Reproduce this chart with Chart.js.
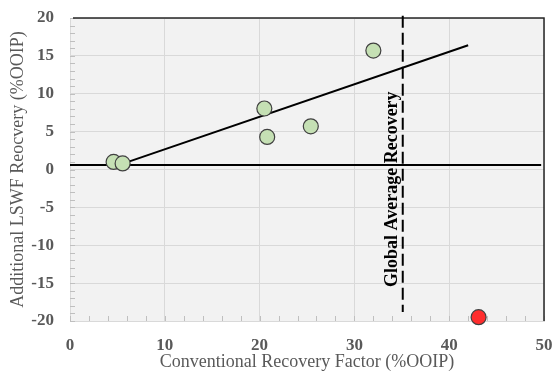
<!DOCTYPE html>
<html>
<head>
<meta charset="utf-8">
<script src="https://cdn.jsdelivr.net/npm/chart.js@4/dist/chart.umd.min.js"></script>
<style>
  html, body { margin: 0; padding: 0; background: #fff; }
  #wrap { width: 555px; height: 373px; }
</style>
</head>
<body>
<div id="wrap"><canvas id="myChart" width="555" height="373"></canvas></div>
<script>
// field data
const conventionalRF = [4.6, 5.55, 20.5, 20.8, 25.4, 32.0];
const additionalLSWF = [1.0, 0.8, 8.05, 4.3, 5.7, 15.7];
const outlierRF = [43.1];
const outlierLSWF = [-19.5];

// fitted trend line end points
const trendX = [5.05, 42.0];
const trendY = [0.55, 16.4];

// reference lines
const baselineX = [0, 49.7];
const baselineY = [0.6, 0.6];
const globalAvgX = [35.1, 35.1];
const globalAvgY = [20.3, -18.8];
const globalAvgLabel = 'Global Average Recovery';
const labelPos = { x: 33.95, y: -2.6 };

const xTicks = [0, 10, 20, 30, 40, 50];
const yTicks = [-20, -15, -10, -5, 0, 5, 10, 15, 20];

const toPoints = (xs, ys) => xs.map((x, i) => ({ x: x, y: ys[i] }));

const serif = 'Liberation Serif, Times New Roman, serif';

const decorPlugin = {
    id: 'decor',
    beforeDraw(chart) {
        const { ctx, chartArea: a } = chart;
        ctx.save();
        ctx.fillStyle = '#f2f2f2';
        ctx.fillRect(a.left, a.top, a.right - a.left, a.bottom - a.top);
        ctx.restore();
    },
    beforeDatasetsDraw(chart) {
        const { ctx, chartArea: a, scales } = chart;
        ctx.save();
        // minor ticks
        ctx.strokeStyle = '#bfbfbf';
        ctx.lineWidth = 1;
        ctx.beginPath();
        for (let v = -20; v <= 20; v += 1) {
            const py = Math.round(scales.y.getPixelForValue(v)) + 0.5;
            ctx.moveTo(a.left, py);
            ctx.lineTo(a.left + 5, py);
        }
        for (let v = 0; v <= 50; v += 2) {
            const px = Math.round(scales.x.getPixelForValue(v)) + 0.5;
            ctx.moveTo(px, a.bottom);
            ctx.lineTo(px, a.bottom - 5);
        }
        ctx.stroke();
        // dark top and right frame
        ctx.strokeStyle = '#262626';
        ctx.lineWidth = 1.5;
        ctx.beginPath();
        ctx.moveTo(a.left + 3, a.top);
        ctx.lineTo(a.right, a.top);
        ctx.lineTo(a.right, a.bottom);
        ctx.stroke();
        ctx.restore();
    },
    afterDatasetsDraw(chart) {
        const { ctx, scales } = chart;
        ctx.save();
        ctx.translate(scales.x.getPixelForValue(labelPos.x), scales.y.getPixelForValue(labelPos.y));
        ctx.rotate(-Math.PI / 2);
        ctx.font = 'bold 18px ' + serif;
        ctx.fillStyle = '#000';
        ctx.textAlign = 'center';
        ctx.textBaseline = 'middle';
        ctx.fillText(globalAvgLabel, 0, 0);
        ctx.restore();
    }
};

function initializeScatterChart() {
    const ctx = document.getElementById('myChart').getContext('2d');
    new Chart(ctx, {
        type: 'scatter',
        data: {
            datasets: [{
                label: 'Outlier',
                data: toPoints(outlierRF, outlierLSWF),
                backgroundColor: '#ff2d2d',
                borderColor: '#404040',
                borderWidth: 1.2,
                pointRadius: 7.5,
                clip: false
            }, {
                label: 'Field data',
                data: toPoints(conventionalRF, additionalLSWF),
                backgroundColor: '#c5e0b4',
                borderColor: '#404040',
                borderWidth: 1.2,
                pointRadius: 7.5
            }, {
                label: 'Trend',
                data: toPoints(trendX, trendY),
                showLine: true,
                borderColor: '#000',
                borderWidth: 2,
                pointRadius: 0
            }, {
                label: 'Baseline',
                data: toPoints(baselineX, baselineY),
                showLine: true,
                borderColor: '#000',
                borderWidth: 2,
                pointRadius: 0,
                clip: false
            }, {
                label: 'Global average',
                data: toPoints(globalAvgX, globalAvgY),
                showLine: true,
                borderColor: '#000',
                borderWidth: 2,
                borderDash: [12, 5],
                pointRadius: 0,
                clip: false
            }]
        },
        options: {
            responsive: false,
            animation: false,
            layout: { padding: { top: 18, right: 11, left: 0, bottom: 0 } },
            plugins: {
                legend: { display: false },
                tooltip: { enabled: false }
            },
            scales: {
                x: {
                    min: 0, max: 50,
                    afterBuildTicks: s => { s.ticks = xTicks.map(v => ({ value: v })); },
                    afterFit: s => {
                        s.height = 52;
                        s.paddingLeft = 0; s.paddingRight = 0;
                        s.paddingTop = 0; s.paddingBottom = 0;
                    },
                    grid: { color: '#d9d9d9', drawTicks: false },
                    border: { color: '#d9d9d9' },
                    ticks: {
                        padding: 14,
                        color: '#595959',
                        font: { family: serif, size: 17, weight: 'bold' }
                    },
                    title: {
                        display: true,
                        text: 'Conventional Recovery Factor (%OOIP)',
                        color: '#595959',
                        padding: { top: 0, bottom: 0 },
                        font: { family: serif, size: 18 }
                    }
                },
                y: {
                    min: -20, max: 20,
                    afterBuildTicks: s => { s.ticks = yTicks.map(v => ({ value: v })); },
                    afterFit: s => {
                        s.width = 70;
                        s.paddingLeft = 0; s.paddingRight = 0;
                        s.paddingTop = 0; s.paddingBottom = 0;
                    },
                    grid: { color: '#d9d9d9', drawTicks: false },
                    border: { color: '#d9d9d9' },
                    ticks: {
                        padding: 16,
                        color: '#595959',
                        font: { family: serif, size: 17, weight: 'bold' }
                    },
                    title: {
                        display: true,
                        text: 'Additional LSWF Reocvery (%OOIP)',
                        color: '#595959',
                        padding: { top: 7, bottom: 0 },
                        font: { family: serif, size: 18 }
                    }
                }
            }
        },
        plugins: [decorPlugin]
    });
}

document.addEventListener('DOMContentLoaded', function () {
    initializeScatterChart();
});
</script>
</body>
</html>
